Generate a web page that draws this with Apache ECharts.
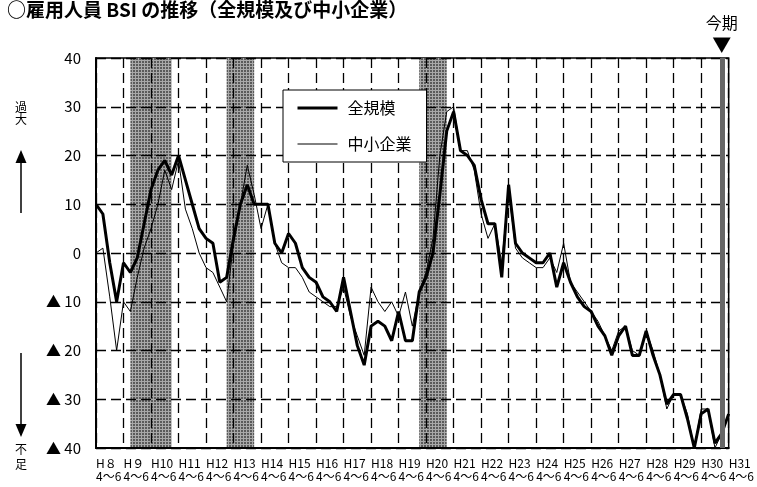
<!DOCTYPE html>
<html>
<head>
<meta charset="utf-8">
<script src="https://cdn.jsdelivr.net/npm/echarts@6.0.0/dist/echarts.min.js"></script>
<style>
  html, body { margin: 0; padding: 0; background: #fff; }
  #main { width: 757px; height: 487px; }
</style>
</head>
<body>
<div id="main"></div>
<script>
// 年（H8〜H31）と四半期
var years = ['H８', 'H９', 'H10', 'H11', 'H12', 'H13', 'H14', 'H15', 'H16', 'H17', 'H18', 'H19',
  'H20', 'H21', 'H22', 'H23', 'H24', 'H25', 'H26', 'H27', 'H28', 'H29', 'H30', 'H31']
var quarters = ['4～6', '7～9', '10～12', '1～3']

// 全規模（H8 4～6 〜 H31 4～6 見通し）
var allSizes = [
  10, 8, -2, -10,  -2, -4, -1, 6,  13, 17, 19, 16,  20, 15, 10, 5,
  3, 2, -6, -5,  3, 10, 14, 10,  10, 10, 2, 0,  4, 2, -3, -5,
  -6, -9, -10, -12,  -5, -12, -19, -23,  -15, -14, -15, -18,  -12, -18, -18, -8,
  -5, 0, 12, 25,  29, 21, 20, 18,  11, 6, 6, -5,  14, 2, 0, -1,
  -2, -2, 0, -7,  -2, -6, -9, -11,  -12, -15, -17, -21,  -17, -15, -21, -21,
  -16, -21, -25, -31,  -29, -29, -34, -40,  -33, -32, -39, -37,  -33
]
// 中小企業
var smeValues = [
  0, 1, -9, -20,  -10, -12, -5, 1,  5, 10, 17, 13,  19, 9, 5, 0,
  -3, -4, -7, -10,  2, 10, 18, 12,  5, 10, 2, -2,  -3, -3, -5, -8,
  -9, -10, -11, -11,  -7, -13, -17, -21,  -7, -10, -12, -10,  -13, -8, -15, -8,
  -4, 3, 20, 29,  30, 21, 21, 17,  8, 3, 6, -2,  13, 1, -1, -2,
  -3, -3, -1, -4,  2, -6, -8, -10,  -12, -14, -17, -20,  -16, -15, -20, -21,
  -16, -20, -25, -32,  -29, -29, -33, -40,  -32, -32, -40, -37,  -33
]

// 景気後退期（四半期インデックス）と今期
var recessions = [[5, 11], [19, 23], [47, 51]]
var currentIndex = 91

var categories = []
for (var i = 0; i < allSizes.length; i++) {
  categories.push(years[Math.floor(i / 4)] + '\n' + quarters[i % 4])
}

// 網掛けパターン
var pat = document.createElement('canvas')
pat.width = 3
pat.height = 3
var ctx = pat.getContext('2d')
ctx.fillStyle = '#a8a8a8'
ctx.fillRect(0, 0, 3, 3)
ctx.fillStyle = '#5a5a5a'
ctx.fillRect(1, 1, 2, 2)

var myChart = echarts.init(document.getElementById('main'))
var font = '"Noto Sans CJK JP", "Liberation Sans", sans-serif'

myChart.setOption({
  animation: false,
  textStyle: { fontFamily: font, color: '#000' },
  title: {
    text: '○雇用人員 BSI の推移（全規模及び中小企業）',
    left: 7,
    top: 0,
    padding: 0,
    textStyle: { fontSize: 19, fontWeight: 'bold', color: '#000', fontFamily: font }
  },
  legend: {
    data: [
      { name: '全規模', lineStyle: { width: 3 } },
      { name: '中小企業', lineStyle: { width: 1 } }
    ],
    orient: 'vertical',
    left: 283,
    top: 90,
    itemWidth: 40,
    itemHeight: 14,
    itemGap: 20,
    padding: [10, 15, 10, 13],
    borderColor: '#000',
    borderWidth: 1,
    backgroundColor: '#fff',
    itemStyle: { opacity: 0 },
    textStyle: { fontSize: 16, color: '#000', padding: [0, 0, 0, 5] }
  },
  grid: {
    left: 96,
    right: 24,
    top: 58,
    bottom: 39,
    show: true,
    borderColor: '#000',
    borderWidth: 1.5
  },
  xAxis: {
    type: 'category',
    boundaryGap: false,
    data: categories,
    z: 1.5,
    axisLine: { onZero: false, lineStyle: { color: '#000', width: 2 } },
    axisTick: { show: false },
    axisLabel: {
      interval: 3,
      showMinLabel: true,
      showMaxLabel: true,
      margin: 9,
      fontSize: 12,
      lineHeight: 13,
      color: '#000',
      align: 'left'
    },
    splitLine: {
      show: true,
      interval: 3,
      lineStyle: { color: '#000', width: 1.3, type: [10, 5] }
    }
  },
  yAxis: {
    type: 'value',
    min: -40,
    max: 40,
    interval: 10,
    z: 1.5,
    axisLine: { show: true, lineStyle: { color: '#000', width: 2 } },
    axisTick: { show: false },
    axisLabel: {
      fontSize: 15,
      margin: 15,
      color: '#000',
      formatter: function (v) { return v < 0 ? '▲ ' + (-v) : String(v) }
    },
    splitLine: { lineStyle: { color: '#000', width: 1.3, type: [10, 5] } }
  },
  graphic: [
    { type: 'text', left: 15, top: 101, style: { text: '過\n大', font: '12px ' + font, lineHeight: 12, fill: '#000' } },
    { type: 'line', shape: { x1: 21, y1: 160, x2: 21, y2: 213 }, style: { stroke: '#000', lineWidth: 1.5 } },
    { type: 'polygon', shape: { points: [[21, 150], [15.5, 163], [26.5, 163]] }, style: { fill: '#000' } },
    { type: 'line', shape: { x1: 21, y1: 353, x2: 21, y2: 426 }, style: { stroke: '#000', lineWidth: 1.5 } },
    { type: 'polygon', shape: { points: [[21, 437], [15.5, 424], [26.5, 424]] }, style: { fill: '#000' } },
    { type: 'text', left: 15, top: 442, style: { text: '不\n足', font: '12px ' + font, lineHeight: 15, fill: '#000' } }
  ],
  series: [
    {
      name: 'shade',
      type: 'line',
      data: [],
      z: 1,
      silent: true,
      markArea: {
        silent: true,
        itemStyle: { color: { image: pat, repeat: 'repeat' } },
        data: recessions.map(function (r) {
          return [{ xAxis: categories[r[0]] }, { xAxis: categories[r[1]] }]
        })
      },
      markLine: {
        silent: true,
        symbol: 'none',
        lineStyle: { color: '#666', width: 5, type: 'solid' },
        label: {
          show: true,
          position: 'end',
          distance: 4,
          formatter: '{a|今期}\n{b|▼}',
          rich: {
            a: { fontSize: 16, lineHeight: 24, color: '#000', fontFamily: font },
            b: { fontSize: 19, lineHeight: 19, color: '#000', fontFamily: font }
          }
        },
        data: [{ xAxis: categories[currentIndex] }]
      }
    },
    {
      name: '全規模',
      type: 'line',
      data: allSizes,
      symbol: 'none',
      z: 3,
      lineStyle: { color: '#000', width: 3 },
      itemStyle: { color: '#000' }
    },
    {
      name: '中小企業',
      type: 'line',
      data: smeValues,
      symbol: 'none',
      z: 2,
      lineStyle: { color: '#000', width: 1 },
      itemStyle: { color: '#000' }
    }
  ]
})
</script>
</body>
</html>
